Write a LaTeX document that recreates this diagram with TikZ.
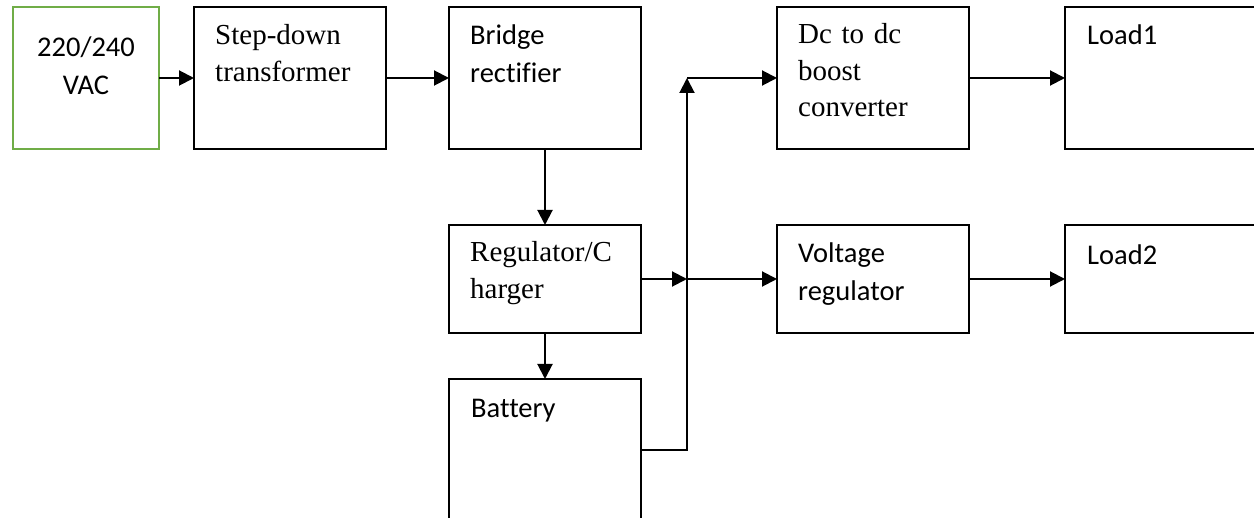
\documentclass[tikz,border=0pt]{standalone}
\usepackage{fontspec}
\setmainfont{Liberation Serif}
\newfontfamily\calibrifont[Ligatures=NoCommon]{Carlito}
\usepackage{xcolor}
\usetikzlibrary{arrows.meta,positioning}
\definecolor{srcgreen}{RGB}{112,173,71}

\begin{document}
\begin{tikzpicture}[
  x=1pt,y=-1pt,
  box/.style={rectangle,draw,line width=1.8pt,outer sep=0pt,inner sep=0pt,minimum width=192pt,minimum height=142pt},
  shortbox/.style={box,minimum height=108pt},
  srcbox/.style={box,draw=srcgreen,minimum width=146pt},
  serif/.style={anchor=base west,inner sep=0pt,text width=180pt,align=left,font=\fontsize{29}{36.5}\selectfont},
  sans/.style={anchor=base west,inner sep=0pt,text width=180pt,align=left,font=\calibrifont\fontsize{28.5}{38}\selectfont},
  arr/.style={-{Triangle[length=15pt,width=15pt]},line width=2pt}
]
\useasboundingbox (0,0) rectangle (1254,518);
\clip (0,0) rectangle (1254,518);

\node[srcbox] (vac) at (86,78) {};
\node[box,right=35pt of vac] (stepdown) {};
\node[box,right=63pt of stepdown] (bridge) {};
\node[shortbox,below=76pt of bridge] (charger) {};
\node[box,below=46pt of charger] (battery) {};
\node[box,right=136pt of bridge] (boost) {};
\node[box,right=96pt of boost] (loadA) {};
\node[shortbox,right=136pt of charger] (vreg) {};
\node[shortbox,right=96pt of vreg] (loadB) {};

\node[sans,text width=146pt,align=center,anchor=base] (vactxt) at ([shift={(0,-21)}]vac.center) {220/240\\VAC};
\node[serif] (stepdowntxt) at ([shift={(21,38)}]stepdown.north west) {Step-down\\transformer};
\node[sans] (bridgetxt) at ([shift={(21,38)}]bridge.north west) {Bridge\\rectifier};
\node[serif] (chargertxt) at ([shift={(21,37)}]charger.north west) {Regulator/C\\harger};
\node[sans] (batterytxt) at ([shift={(22,39)}]battery.north west) {Battery};
\node[serif] (boosttxt) at ([shift={(21,37)}]boost.north west) {Dc to dc\\boost\\converter};
\node[sans] (loadAtxt) at ([shift={(22,38)}]loadA.north west) {Load1};
\node[sans] (vregtxt) at ([shift={(21,38)}]vreg.north west) {Voltage\\regulator};
\node[sans] (loadBtxt) at ([shift={(22,40)}]loadB.north west) {Load2};

\coordinate (hub) at ([xshift=46pt]charger.east);
\coordinate (corner) at (hub |- boost.west);

\draw[arr] (vac) -- (stepdown);
\draw[arr] (stepdown) -- (bridge);
\draw[arr] (bridge) -- (charger);
\draw[arr] (charger) -- (battery);
\draw[arr] (battery) -| (corner);
\draw[arr] (corner) -- (boost);
\draw[arr] (charger) -- (hub);
\draw[arr] (hub) -- (vreg);
\draw[arr] (boost) -- (loadA);
\draw[arr] (vreg) -- (loadB);
\end{tikzpicture}
\end{document}
